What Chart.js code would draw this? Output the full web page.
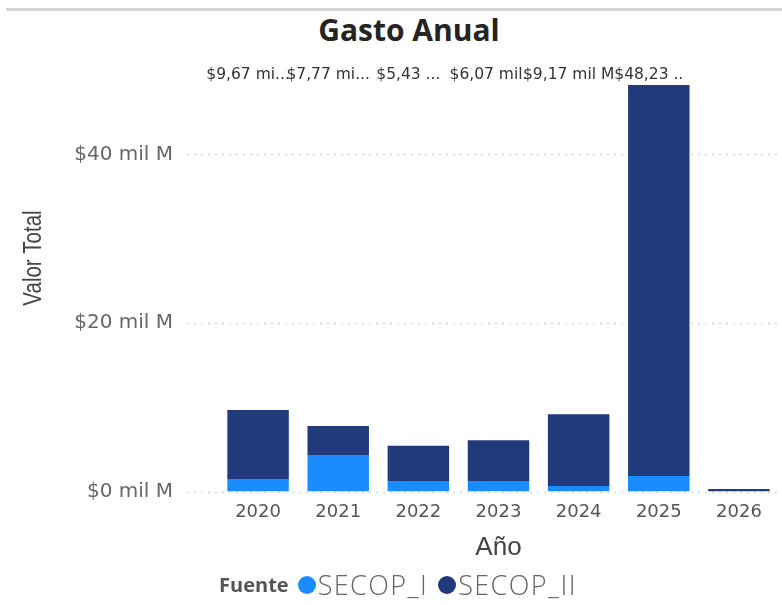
<!DOCTYPE html>
<html>
<head>
<meta charset="utf-8">
<script src="https://cdn.jsdelivr.net/npm/chart.js@4.4.1/dist/chart.umd.min.js"></script>
<style>
  html, body { margin: 0; padding: 0; background: #fff; }
  #wrap { position: relative; width: 782px; height: 605px; overflow: hidden; }
  #topline { position: absolute; left: 6px; right: 0; top: 8px; height: 3px; background: #d4d4d4; }
  #title { position: absolute; top: 9px; left: 0; width: 818px; text-align: center;
           font: bold 30px "Open Sans", sans-serif; color: #252423; }
  #chart { position: absolute; left: 0; top: 0; }
  #legend { position: absolute; top: 566px; left: 0; width: 806px; display: flex; justify-content: center;
            align-items: center; font-family: "Open Sans", sans-serif; font-weight: 300; font-size: 27px;
            color: #666; letter-spacing: 1.4px; }
  #legend b { color: #555; font-weight: 700; font-size: 20px; letter-spacing: 0; margin-right: 9px; }
  #legend .dot { display: inline-block; width: 18px; height: 18px; border-radius: 50%; margin-right: 2px; }
  #legend .item { display: flex; align-items: center; margin-right: 10px; }
</style>
</head>
<body>
<div id="wrap">
  <div id="topline"></div>
  <div id="title">Gasto Anual</div>
  <canvas id="chart" width="782" height="605"></canvas>
  <div id="legend"></div>
</div>
<script>
const years = ['2020', '2021', '2022', '2023', '2024', '2025', '2026'];
const secopI = [1.48, 4.33, 1.25, 1.25, 0.65, 1.84, 0];
const secopII = [8.19, 3.44, 4.18, 4.82, 8.52, 46.39, 0.3];
const totalLabels = ['$9,67 mi...', '$7,77 mi...', '$5,43 ...', '$6,07 mil.', '$9,17 mil M', '$48,23 ..', ''];
const yTicks = [0, 20, 40];
const seriesNames = ['SECOP_I', 'SECOP_II'];
const colors = ['#1a8cff', '#213a7c'];

// dotted grid lines, a bit wider than the plot area like the original
const gridPlugin = {
    id: 'dottedGrid',
    beforeDatasetsDraw(chart) {
        const { ctx, chartArea, scales } = chart;
        ctx.save();
        ctx.strokeStyle = '#d8d8d8';
        ctx.lineWidth = 1.5;
        ctx.setLineDash([2, 5]);
        yTicks.forEach(v => {
            const y = Math.round(scales.y.getPixelForValue(v)) + 0.5;
            ctx.beginPath();
            ctx.moveTo(chartArea.left - 31, y);
            ctx.lineTo(chartArea.right, y);
            ctx.stroke();
        });
        ctx.restore();
    }
};

// total labels on one line above the plot, plus the y axis title
const textPlugin = {
    id: 'texts',
    afterDatasetsDraw(chart) {
        const { ctx, scales } = chart;
        ctx.save();
        ctx.font = '15.5px "DejaVu Sans", sans-serif';
        ctx.fillStyle = '#333';
        ctx.textAlign = 'center';
        ctx.textBaseline = 'middle';
        totalLabels.forEach((t, i) => {
            if (t) ctx.fillText(t, scales.x.getPixelForValue(i) - 10, 75);
        });
        ctx.translate(34, 258);
        ctx.rotate(-Math.PI / 2);
        ctx.scale(0.82, 1);
        ctx.font = '25px "Liberation Sans", sans-serif';
        ctx.fillStyle = '#444';
        ctx.fillText('Valor Total', 0, 0);
        ctx.restore();
    }
};

new Chart(document.getElementById('chart').getContext('2d'), {
    type: 'bar',
    data: {
        labels: years,
        datasets: [
            { label: seriesNames[0], data: secopI, backgroundColor: colors[0] },
            { label: seriesNames[1], data: secopII, backgroundColor: colors[1] }
        ]
    },
    options: {
        responsive: false,
        animation: false,
        categoryPercentage: 1,
        barPercentage: 0.767,
        layout: { padding: { top: 82, right: 3, bottom: 40, left: 0 } },
        plugins: {
            legend: { display: false },
            tooltip: { enabled: false }
        },
        scales: {
            x: {
                stacked: true,
                grid: { display: false, drawTicks: false },
                border: { display: false },
                ticks: { color: '#555', font: { family: 'DejaVu Sans', size: 18 }, padding: 10 },
                title: { display: true, text: 'Año', color: '#444',
                         font: { family: 'Liberation Sans', size: 26 }, padding: { top: 0, bottom: 2 } },
                afterFit: s => { s.height = 73.5; }
            },
            y: {
                stacked: true,
                min: 0,
                max: 48.6,
                grid: { display: false, drawTicks: false },
                border: { display: false },
                afterBuildTicks: s => { s.ticks = yTicks.map(v => ({ value: v })); },
                ticks: {
                    color: '#666',
                    font: { family: 'DejaVu Sans', size: 20 },
                    padding: 45,
                    callback: v => '$' + v + ' mil M'
                },
                afterFit: s => { s.width = 218; }
            }
        }
    },
    plugins: [gridPlugin, textPlugin]
});

const legend = document.getElementById('legend');
legend.innerHTML = '<b>Fuente</b>' + seriesNames.map((n, i) =>
    '<span class="item"><span class="dot" style="background:' + colors[i] + '"></span>' + n + '</span>').join('');
</script>
</body>
</html>
